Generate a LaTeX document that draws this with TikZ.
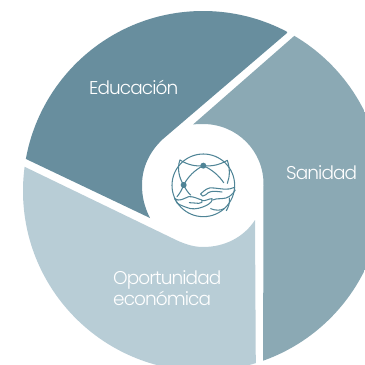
\documentclass[tikz,border=0pt]{standalone}
\usepackage{fontspec}
\setmainfont{Poppins Light}[LetterSpace=-5]
\definecolor{cdark}{HTML}{688E9E}
\definecolor{cmid}{HTML}{8BA9B4}
\definecolor{clight}{HTML}{B8CDD6}
\definecolor{cicon}{HTML}{4F8496}
\tikzset{lab/.style={text=white,font=\fontsize{18.5}{20}\selectfont,align=left,inner sep=0pt},
icon/.style={draw=cicon,line width=1.05pt,line cap=round,line join=round,fill=none}}
\begin{document}
\begin{tikzpicture}[x=1pt,y=-1pt]
\useasboundingbox (0,0) rectangle (365,365);
\begin{scope}
\clip (203,191) circle[radius=180];
\fill[cdark] (287,33) -- (287,-20) -- (-30,-20) -- (-30,134) -- (26,159) -- (150,218)
  .. controls (144,206) and (142,196) .. (142,185) .. controls (142,167) and (150,151) .. (163,139) -- cycle;
\fill[cmid] (293,37) -- (400,-50) -- (400,400) -- (263,400) -- (263.5,185)
  .. controls (264,151) and (237,124) .. (203,124) .. controls (199,124) and (196,124) .. (193,124.5) -- cycle;
\fill[clight] (23,166) -- (-30,140) -- (-30,400) -- (256,400) -- (255,220)
  .. controls (244,237) and (225,247) .. (203,247) .. controls (192,247) and (182,243) .. (172,238) -- cycle;
\end{scope}
\node[lab,anchor=base west] (edu) at (89,94) {Educación};
\node[lab,anchor=base west] (san) at (286,179) {Sanidad};
\node[lab,anchor=base west] (opo) at (113,284) {Oportunidad};
\node[lab,anchor=base west] (eco) at (113,305) {económica};
\begin{scope}[shift={(168,150)},x=0.3333pt,y=-0.3333pt]
\draw[icon] (106,106) circle[radius=94];
\fill[cicon] (106,47) circle[radius=9];
\fill[cicon] (47,105) circle[radius=9];
% parallels through the two dots
\draw[icon] (47,105) .. controls (60,80) and (80,60) .. (106,47) .. controls (130,58) and (152,75) .. (167,98);
\draw[icon] (36,30) .. controls (58,44) and (82,50) .. (106,47) .. controls (132,50) and (156,44) .. (178,31);
% meridians
\draw[icon] (36,30) .. controls (26,55) and (34,85) .. (47,105) .. controls (53,118) and (60,128) .. (68,135);
\draw[icon] (47,105) .. controls (42,118) and (36,130) .. (27,140);
\draw[icon] (178,31) .. controls (186,55) and (186,80) .. (178,100);
% upper hand
\draw[icon] (200,112) .. controls (180,122) and (160,116) .. (138,114) .. controls (120,110) and (108,122) .. (98,132) .. controls (100,140) and (108,140) .. (114,134) .. controls (122,124) and (132,122) .. (162,126);
\draw[icon] (202,120) .. controls (192,136) and (180,146) .. (160,146) .. controls (150,146) and (142,146) .. (134,150);
\draw[icon] (184,144) .. controls (186,158) and (182,170) .. (175,182);
% lower hand
\draw[icon] (20,146) .. controls (34,156) and (46,146) .. (62,140) .. controls (76,138) and (92,148) .. (102,150) .. controls (106,156) and (100,160) .. (92,160) .. controls (84,160) and (74,158) .. (64,158);
\draw[icon] (102,152) .. controls (112,154) and (122,146) .. (132,146) .. controls (134,154) and (126,160) .. (116,166) .. controls (100,174) and (84,178) .. (68,176) .. controls (54,172) and (42,168) .. (28,160);
\draw[icon] (28,160) -- (20,146);
\draw[icon] (128,176) .. controls (142,182) and (158,182) .. (168,176);
\end{scope}
\end{tikzpicture}
\end{document}
